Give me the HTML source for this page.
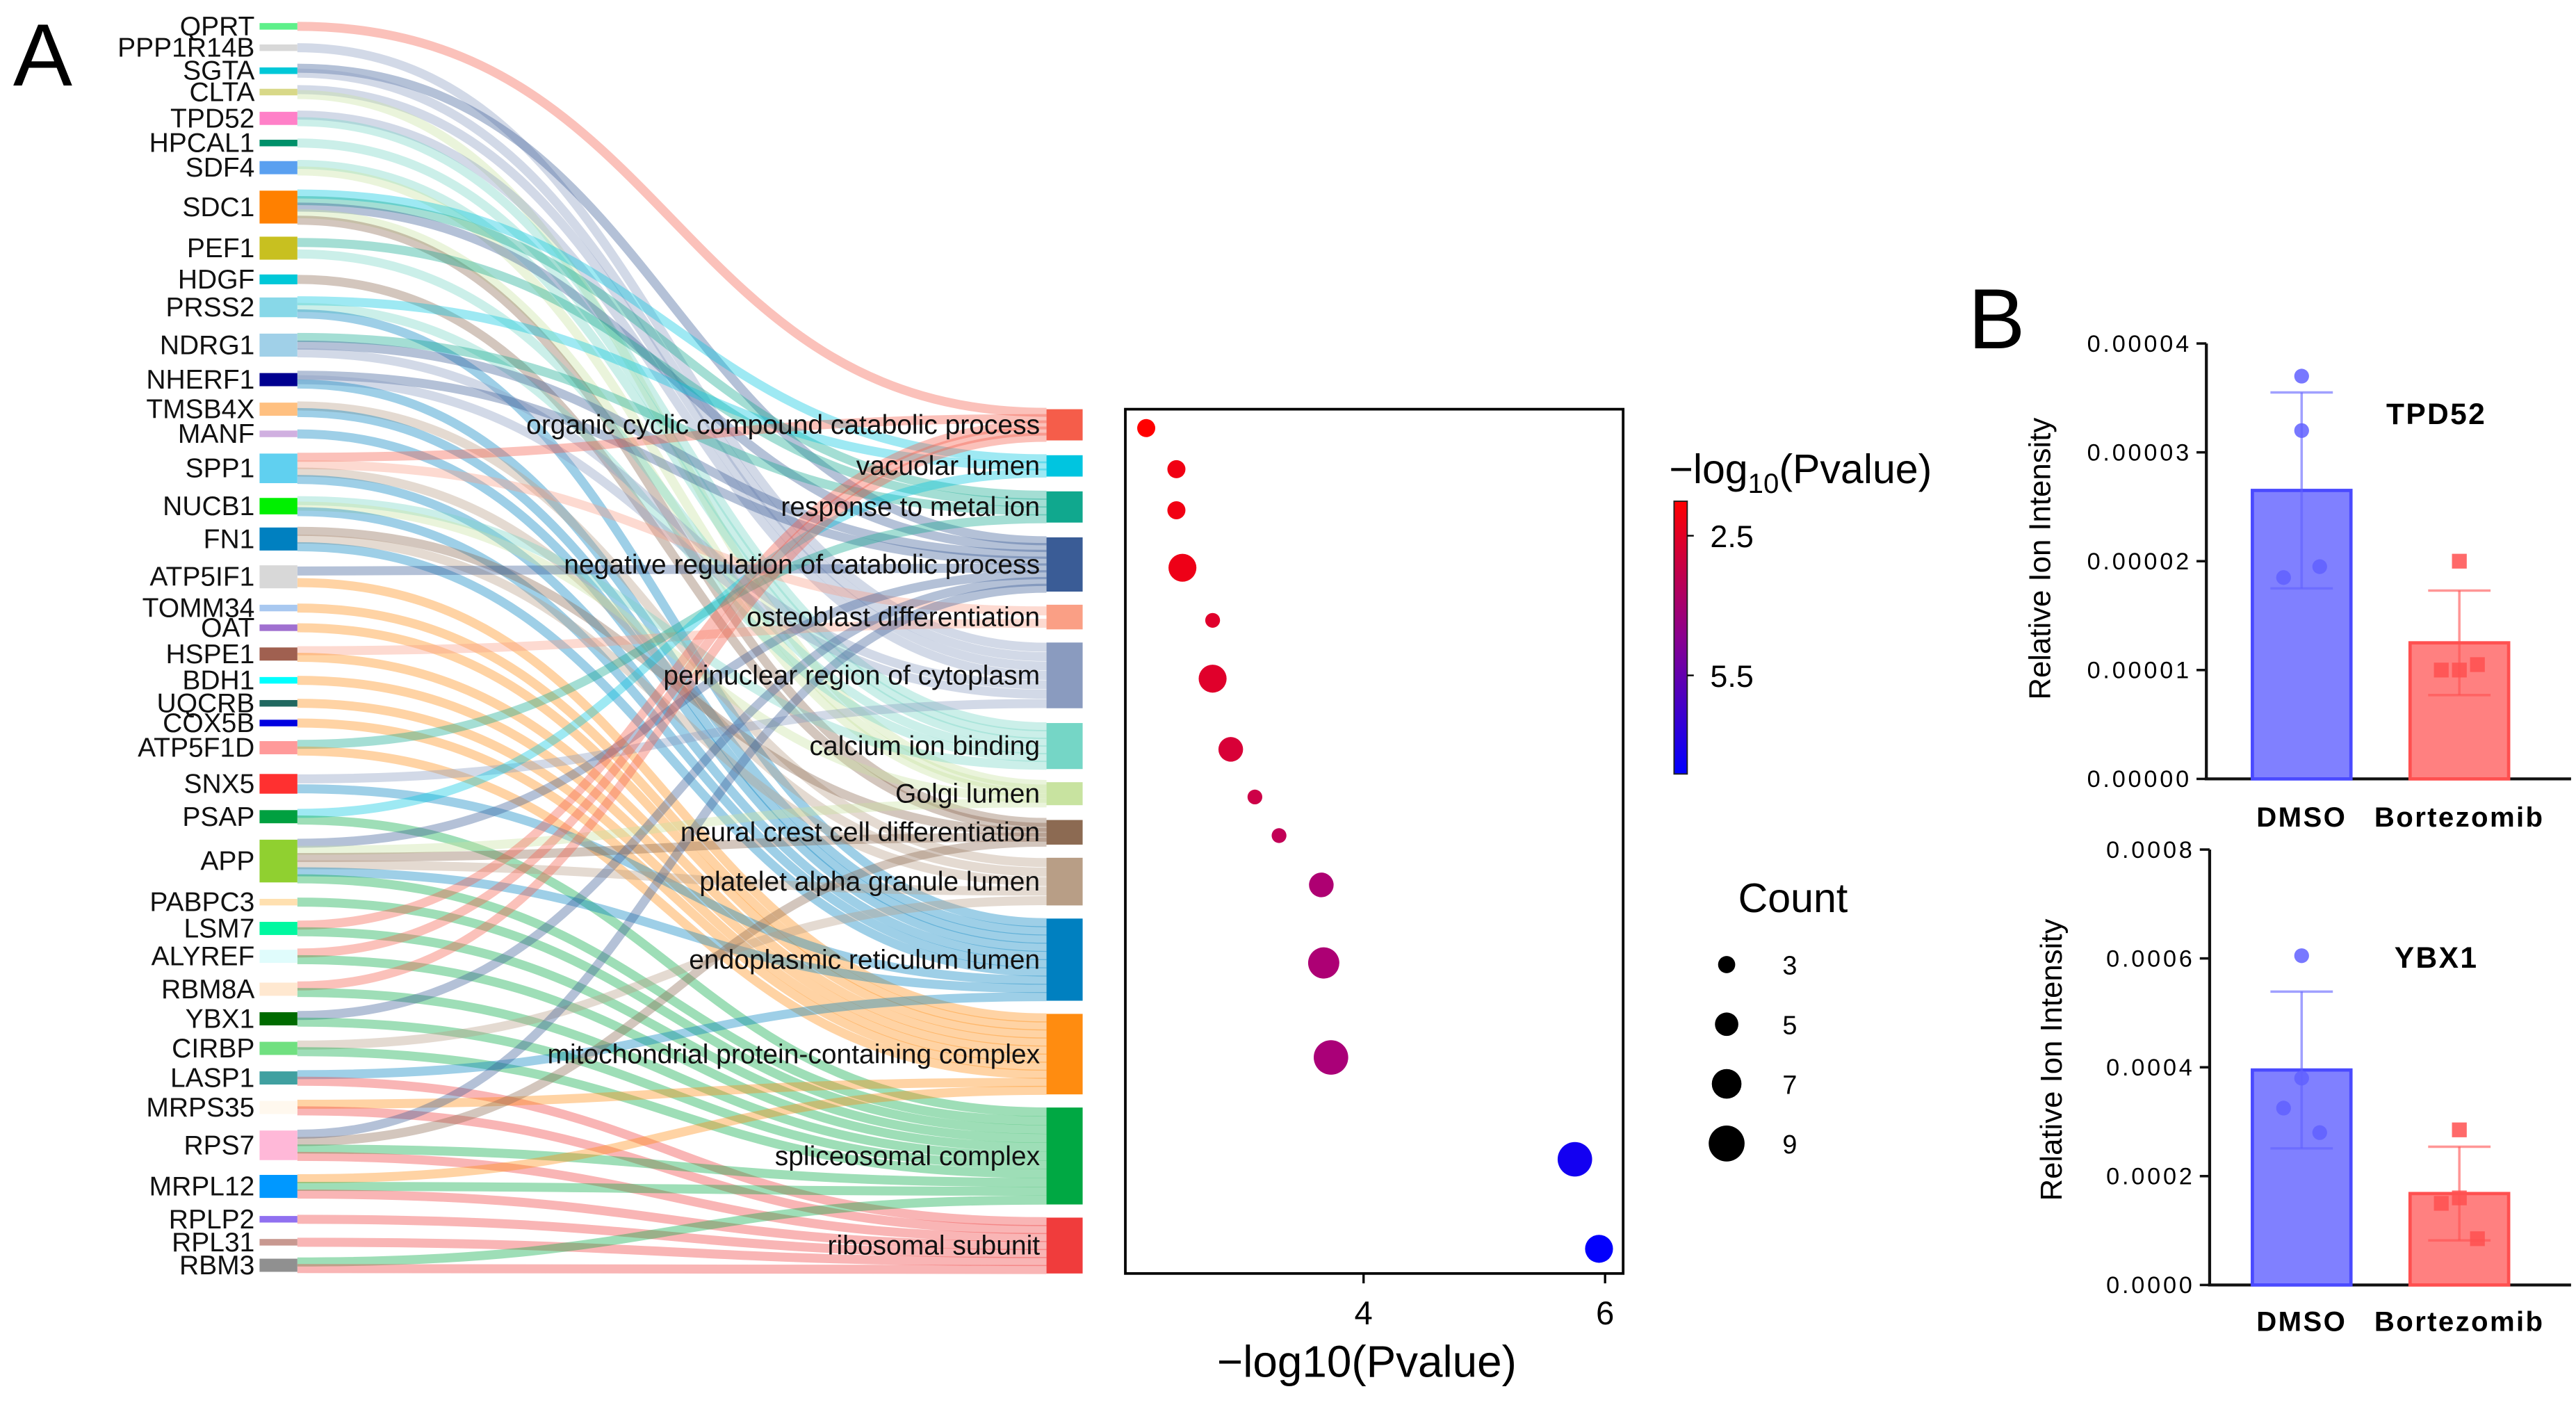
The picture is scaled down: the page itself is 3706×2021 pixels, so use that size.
<!DOCTYPE html>
<html><head><meta charset="utf-8"><style>
html,body{margin:0;padding:0;background:#fff;}
svg{display:block;font-family:"Liberation Sans",sans-serif;}
</style></head><body>
<svg id="fig" width="3706" height="2021" viewBox="0 0 1568 855" xmlns="http://www.w3.org/2000/svg">
<rect width="1568" height="855" fill="#fff"/>
<text x="8" y="52" font-size="54">A</text>
<text x="1198" y="212" font-size="52">B</text>
<g id="sankey"></g>
<g id="dot"></g>
<g id="bars1"></g>
<g id="bars2"></g>
</svg>
<script>
const NS="http://www.w3.org/2000/svg";
function mk(p,t,a){const e=document.createElementNS(NS,t);for(const k in a)e.setAttribute(k,a[k]);p.appendChild(e);return e;}

// ---------- Sankey data ----------
const genes=["QPRT","PPP1R14B","SGTA","CLTA","TPD52","HPCAL1","SDF4","SDC1","PEF1","HDGF","PRSS2","NDRG1","NHERF1","TMSB4X","MANF","SPP1","NUCB1","FN1","ATP5IF1","TOMM34","OAT","HSPE1","BDH1","UQCRB","COX5B","ATP5F1D","SNX5","PSAP","APP","PABPC3","LSM7","ALYREF","RBM8A","YBX1","CIRBP","LASP1","MRPS35","RPS7","MRPL12","RPLP2","RPL31","RBM3"];
const geneY=[16,29,43,56,72,87,102,126,151,170,187,210,231,249,264,285,308,328,351,370,382,398,414,428,440,455,477,497,524,549,565,582,602,620,638,656,674,697,722,742,756,770];
const geneH=[4,4,4,4,8,4,8,20,14,6,12,14,8,8,4,18,10,14,14,4,4,8,4,4,4,8,12,8,26,4,8,8,8,8,8,8,8,18,14,4,4,8];
const geneColors=["#5ef08a","#d8d8d8","#00c8d8","#d8d888","#ff80c8","#00906a","#5aa0f0","#ff8000","#c8c020","#00c8d8","#88d8e8","#a0d0e8","#000090","#ffc080","#d0b0e0","#60d0f0","#00f000","#0080c0","#d8d8d8","#a8c8f0","#a070d0","#a06050","#00ffff","#206860","#0000e0","#ff9a9a","#ff3030","#00a040","#90d030","#ffe0b0","#00f8a0","#e0fcfc","#ffe8d0","#006a00","#70e080","#40a0a0","#fff8ee","#ffb8d8","#0098ff","#9070f0","#c89890","#909090"];
const terms=["organic cyclic compound catabolic process","vacuolar lumen","response to metal ion","negative regulation of catabolic process","osteoblast differentiation","perinuclear region of cytoplasm","calcium ion binding","Golgi lumen","neural crest cell differentiation","platelet alpha granule lumen","endoplasmic reticulum lumen","mitochondrial protein-containing complex","spliceosomal complex","ribosomal subunit"];
const termTop=[249,277,299,327,368,391,440,476,499,522,559,617,674,741];
const termBot=[268,290,318,360,383,431,468,490,514,551,609,666,733,775];
const termColors=["#f55d4a","#00c5e0","#10a88e","#3a5c96","#fa9f85","#8a9bbf","#75d6c6","#c8e3a0","#8c6a52","#b89e86","#0080c0","#ff8c10","#00a843","#f03c3c"];
const links=[[0,0],[1,5],[2,3],[2,5],[3,5],[3,7],[4,5],[4,6],[5,6],[6,6],[6,7],[7,1],[7,2],[7,3],[7,7],[7,8],[8,2],[8,6],[9,8],[10,1],[10,6],[10,10],[11,2],[11,3],[11,5],[12,3],[12,5],[12,10],[13,9],[13,10],[14,10],[15,0],[15,4],[15,9],[15,10],[16,6],[16,7],[16,10],[17,8],[17,9],[17,10],[18,3],[18,11],[19,11],[20,11],[21,4],[21,11],[22,11],[23,11],[24,11],[25,2],[25,11],[26,5],[26,10],[27,1],[27,12],[28,3],[28,7],[28,8],[28,9],[28,10],[28,12],[29,12],[30,0],[30,12],[31,0],[31,12],[32,0],[32,12],[33,3],[33,12],[34,9],[34,12],[35,10],[35,13],[36,11],[36,13],[37,3],[37,8],[37,12],[37,13],[38,11],[38,12],[38,13],[39,13],[40,13],[41,12],[41,13]];

const sk=document.getElementById('sankey');
const gx0=158,gx1=181,tx0=637,tx1=659;
const gCnt=genes.map(()=>0),tCnt=terms.map(()=>0);
links.forEach(l=>{gCnt[l[0]]++;tCnt[l[1]]++;});
const gIdx=genes.map(()=>0),tIdx=terms.map(()=>0);
const byTerm=links.map((l,i)=>i).sort((a,b)=>links[a][1]-links[b][1]||links[a][0]-links[b][0]);
const tSlot={};byTerm.forEach(i=>{const t=links[i][1];tSlot[i]=tIdx[t]++;});
const lg=mk(sk,'g',{});
links.forEach((l,i)=>{
  const g=l[0],t=l[1];
  const gTop=geneY[g]-Math.max(geneH[g],6)/2,gH=Math.max(geneH[g],6);
  const y0=gTop+gH*(gIdx[g]+0.5)/gCnt[g];gIdx[g]++;
  const th=termBot[t]-termTop[t];
  const y1=termTop[t]+th*(tSlot[i]+0.5)/tCnt[t];
  const mx=(gx1+tx0)/2;
  const p=mk(lg,'path',{d:`M${gx1},${y0} C${mx},${y0} ${mx},${y1} ${tx0},${y1}`,fill:'none',stroke:termColors[t],'stroke-opacity':0.38,'stroke-width':5.5});
  
  
});
genes.forEach((n,i)=>{
  const r=mk(sk,'rect',{x:gx0,y:geneY[i]-geneH[i]/2,width:gx1-gx0,height:geneH[i],fill:geneColors[i]});
  
  
  const t=mk(sk,'text',{x:155,y:geneY[i]+5.5,'font-size':16.5,'text-anchor':'end',fill:'#111'});t.textContent=n;
  
  
});
terms.forEach((n,i)=>{
  const r=mk(sk,'rect',{x:tx0,y:termTop[i],width:tx1-tx0,height:termBot[i]-termTop[i],fill:termColors[i]});
  
  
  const t=mk(sk,'text',{x:633,y:(termTop[i]+termBot[i])/2+5.5,'font-size':16.5,'text-anchor':'end',fill:'#111'});t.textContent=n;
  
  
});

// ---------- Dot plot ----------
const dotP=[2.2,2.45,2.45,2.5,2.75,2.75,2.9,3.1,3.3,3.65,3.67,3.73,5.75,5.95];
const dotCount=[3,3,3,6,2,6,5,2,2,5,7,8,8,6];
const dotXTicks=[4,6];
const countLegend=[3,5,7,9];
const dot=document.getElementById('dot');
const dx=v=>683+(v-2)*73.5;
const rr=c=>2.5+c*1.0;
function pcol(v){let t=(v-2.2)/(6-2.2);t=Math.max(0,Math.min(1,t));
  let r,g=0,b;if(t<0.5){const u=t/0.5;r=255-u*105;b=u*150;}else{const u=(t-0.5)/0.5;r=150-u*150;b=150+u*105;}
  return `rgb(${r|0},${g},${b|0})`;}
mk(dot,'rect',{x:685,y:249,width:303,height:526,fill:'none',stroke:'#000','stroke-width':1.6});
dotP.forEach((v,i)=>{
  const c=mk(dot,'circle',{cx:dx(v),cy:(termTop[i]+termBot[i])/2+2,r:rr(dotCount[i]),fill:pcol(v)});
  
  
});
dotXTicks.forEach(v=>{
  mk(dot,'line',{x1:dx(v),x2:dx(v),y1:775,y2:781,stroke:'#000','stroke-width':1.4});
  const t=mk(dot,'text',{x:dx(v),y:806,'font-size':20,'text-anchor':'middle'});t.textContent=v;
  
  
});
{const t=mk(dot,'text',{x:832,y:838,'font-size':27,'text-anchor':'middle'});t.textContent='\u2212log10(Pvalue)';
}
{const t=mk(dot,'text',{x:1016,y:294,'font-size':25});t.innerHTML='\u2212log<tspan font-size="17" dy="6">10</tspan><tspan dy="-6">(Pvalue)</tspan>';

const defs=mk(dot,'defs',{});const lgd=mk(defs,'linearGradient',{id:'cb',x1:0,y1:0,x2:0,y2:1});
mk(lgd,'stop',{offset:'0','stop-color':'#ff0000'});mk(lgd,'stop',{offset:'0.5','stop-color':'#8a0090'});mk(lgd,'stop',{offset:'1','stop-color':'#0000ff'});
const cb=mk(dot,'rect',{x:1019,y:305,width:8,height:166,fill:'url(#cb)',stroke:'#222','stroke-width':0.8});

[[2.5,326],[5.5,411]].forEach(a=>{mk(dot,'line',{x1:1027,x2:1031,y1:a[1],y2:a[1],stroke:'#000'});
const tt=mk(dot,'text',{x:1041,y:a[1]+7,'font-size':19});tt.textContent=a[0];
});}
{const t=mk(dot,'text',{x:1058,y:555,'font-size':25});t.textContent='Count';
}
countLegend.forEach((c,i)=>{const y=587+i*36.3;
  const ci=mk(dot,'circle',{cx:1051,cy:y,r:rr(c)*0.95,fill:'#000'});
  
  const t=mk(dot,'text',{x:1085,y:y+6,'font-size':16});t.textContent=c;
  });

// ---------- Bar charts ----------
const groups=["DMSO","Bortezomib"];
const tpdMean=[2.65e-5,1.25e-5],tpdSD=[0.9e-5,0.48e-5];
const tpdPts=[[3.7e-5,3.2e-5,1.85e-5,1.95e-5],[2.0e-5,1.0e-5,1.0e-5,1.05e-5]];
const tpdTicks=["0.00000","0.00001","0.00002","0.00003","0.00004"];
const ybxMean=[3.95e-4,1.68e-4],ybxSD=[1.44e-4,0.86e-4];
const ybxPts=[[6.05e-4,3.8e-4,3.25e-4,2.8e-4],[2.85e-4,1.6e-4,1.5e-4,0.85e-4]];
const ybxTicks=["0.0000","0.0002","0.0004","0.0006","0.0008"];
function bar(id,mean,sd,pts,ticks,max,ax,y0,yT,title,titleY,ytX,ytY,lblY){
  const g=document.getElementById(id);
  const ys=v=>y0-(v/max)*(y0-yT);
  const cx=[1401,1497];const fills=['#8080ff','#ff8080'],strk=['#4a4aff','#ff5050'],dc=['#6060ff','#ff5050'];
  mk(g,'line',{x1:ax,x2:ax,y1:yT,y2:y0,stroke:'#111','stroke-width':1.8});
  mk(g,'line',{x1:ax-1,x2:1565,y1:y0,y2:y0,stroke:'#111','stroke-width':1.8});
  ticks.forEach((tl,i)=>{const y=ys(max*i/(ticks.length-1));
    mk(g,'line',{x1:ax-6,x2:ax,y1:y,y2:y,stroke:'#111','stroke-width':1.5});
    const t=mk(g,'text',{x:ax-9,y:y+5,'font-size':14.5,'text-anchor':'end','letter-spacing':'1.6'});t.textContent=tl;
    });
  groups.forEach((gn,i)=>{
    const r=mk(g,'rect',{x:cx[i]-30,y:ys(mean[i]),width:60,height:y0-ys(mean[i]),fill:fills[i],stroke:strk[i],'stroke-width':2});
    
    const hi=ys(mean[i]+sd[i]),lo=ys(mean[i]-sd[i]);
    mk(g,'line',{x1:cx[i],x2:cx[i],y1:hi,y2:lo,stroke:dc[i],'stroke-opacity':0.6,'stroke-width':1.5});
    mk(g,'line',{x1:cx[i]-19,x2:cx[i]+19,y1:hi,y2:hi,stroke:dc[i],'stroke-opacity':0.6,'stroke-width':1.5});
    mk(g,'line',{x1:cx[i]-19,x2:cx[i]+19,y1:lo,y2:lo,stroke:dc[i],'stroke-opacity':0.6,'stroke-width':1.5});
    const offs=[0,0,-11,11];
    pts[i].forEach((v,k)=>{let m;
      if(i===0)m=mk(g,'circle',{cx:cx[i]+offs[k],cy:ys(v),r:4.5,fill:dc[i],'fill-opacity':0.85});
      else m=mk(g,'rect',{x:cx[i]+offs[k]-4.5,y:ys(v)-4.5,width:9,height:9,fill:dc[i],'fill-opacity':0.85});
      });
    const t=mk(g,'text',{x:cx[i],y:lblY,'font-size':17,'font-weight':'bold','text-anchor':'middle','letter-spacing':'1'});t.textContent=gn;
    
  });
  const tt=mk(g,'text',{x:1483,y:titleY,'font-size':18,'font-weight':'bold','text-anchor':'middle','letter-spacing':'1'});tt.textContent=title;
  
  const yt=mk(g,'text',{x:ytX,y:ytY,'font-size':18.5,'text-anchor':'middle',transform:`rotate(-90 ${ytX} ${ytY})`});yt.textContent='Relative Ion Intensity';
  
}
bar('bars1',tpdMean,tpdSD,tpdPts,tpdTicks,4e-5,1343,474,209,'TPD52',258,1248,340,503);
bar('bars2',ybxMean,ybxSD,ybxPts,ybxTicks,8e-4,1345,782,517,'YBX1',589,1255,645,810);
</script>
</body></html>
